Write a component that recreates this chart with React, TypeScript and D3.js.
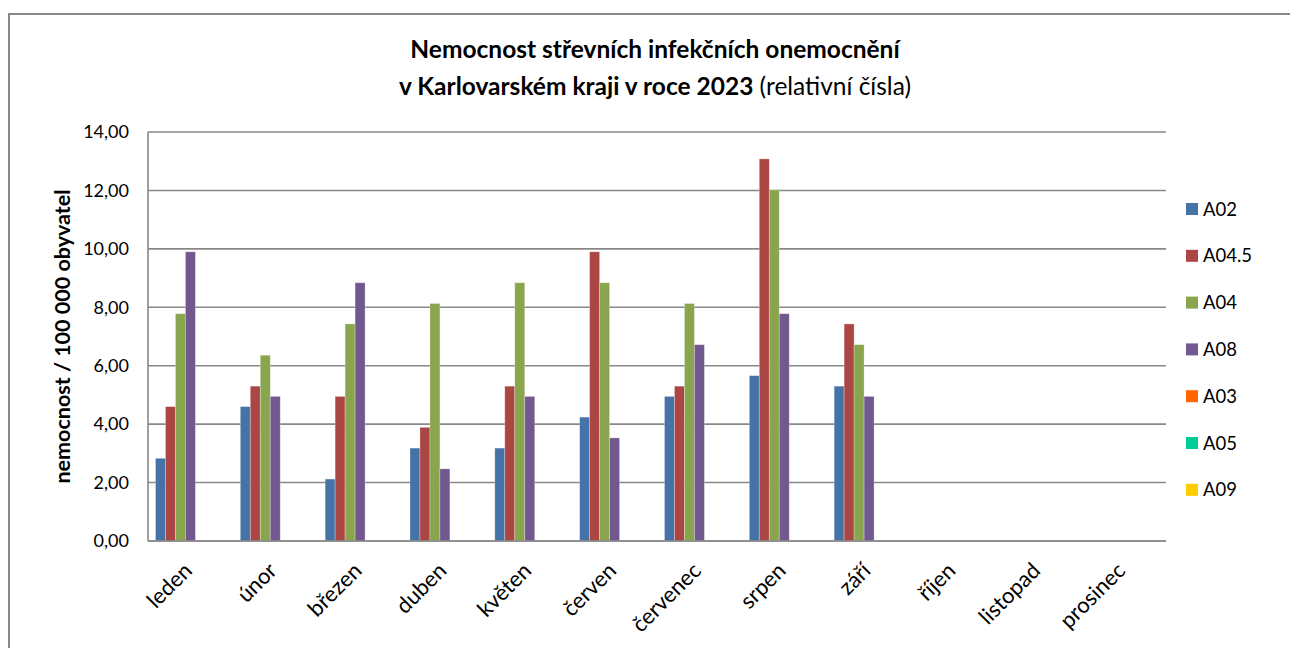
import * as d3 from "d3";
import React, { useEffect, useRef } from "react";

const months = [
  "leden", "únor", "březen", "duben", "květen", "červen",
  "červenec", "srpen", "září", "říjen", "listopad", "prosinec",
];
const seriesNames = ["A02", "A04.5", "A04", "A08", "A03", "A05", "A09"];
const seriesColors = ["#4572A7", "#AA4643", "#89A54E", "#71588F", "#FF6600", "#00CC99", "#FFCC00"];

// hodnoty po měsících (jen leden–září má data)
const a02 = [2.83, 4.60, 2.12, 3.18, 3.18, 4.24, 4.95, 5.66, 5.30];
const a045 = [4.60, 5.30, 4.95, 3.89, 5.30, 9.90, 5.30, 13.08, 7.43];
const a04 = [7.78, 6.36, 7.43, 8.13, 8.84, 8.84, 8.13, 12.02, 6.72];
const a08 = [9.90, 4.95, 8.84, 2.47, 4.95, 3.53, 6.72, 7.78, 4.95];
const a03: number[] = [];
const a05: number[] = [];
const a09: number[] = [];
const yTicks = [0, 2, 4, 6, 8, 10, 12, 14];

const FONT = "Lato, 'Open Sans', sans-serif";

export default function App() {
  const ref = useRef<SVGSVGElement>(null);

  useEffect(() => {
    const svg = d3.select(ref.current);
    svg.selectAll("*").remove();

    const left = 148, right = 1166, top = 132, bottom = 541;
    const allSeries = [a02, a045, a04, a08, a03, a05, a09];

    // rámeček grafu
    svg.append("rect")
      .attr("x", 9).attr("y", 14)
      .attr("width", 1400).attr("height", 800)
      .attr("fill", "white")
      .attr("stroke", "#888").attr("stroke-width", 2);

    // titulek
    const t = svg.append("text")
      .attr("x", 655).attr("y", 58)
      .attr("text-anchor", "middle")
      .style("font-family", FONT).style("font-size", "24.5px")
      .style("font-weight", "bold").attr("fill", "#000");
    t.text("Nemocnost střevních infekčních onemocnění");
    const t2 = svg.append("text")
      .attr("x", 655).attr("y", 95)
      .attr("text-anchor", "middle")
      .style("font-family", FONT).style("font-size", "24.5px").attr("fill", "#000");
    t2.append("tspan").style("font-weight", "bold").text("v Karlovarském kraji v roce 2023");
    t2.append("tspan").text(" (relativní čísla)");

    const x0 = d3.scaleBand().domain(months).range([left, right]).paddingInner(0).paddingOuter(0);
    // gap width 150 % => skupina 7 sloupců zabírá 7/8.5 kategorie
    const groupW = x0.bandwidth() * 7 / 8.5;
    const x1 = d3.scaleBand().domain(seriesNames).range([0, groupW]).padding(0);
    const y = d3.scaleLinear().domain([0, 14]).range([bottom, top]);

    // mřížka
    svg.append("g").selectAll("line").data(yTicks).enter().append("line")
      .attr("x1", left).attr("x2", right)
      .attr("y1", (d) => y(d)).attr("y2", (d) => y(d))
      .attr("stroke", "#888").attr("stroke-width", 1.6);

    // popisky osy y
    svg.append("g").selectAll("text").data(yTicks).enter().append("text")
      .attr("x", 129).attr("y", (d) => y(d))
      .attr("dy", "0.35em")
      .attr("text-anchor", "end")
      .style("font-family", FONT).style("font-size", "18px").attr("fill", "#000")
      .text((d) => d3.format(".2f")(d).replace(".", ","));

    // sloupce
    seriesNames.forEach((name, si) => {
      svg.append("g").selectAll("rect").data(allSeries[si]).enter().append("rect")
        .attr("x", (d, i) => x0(months[i]) + (x0.bandwidth() - groupW) / 2 + x1(name))
        .attr("y", (d) => y(d))
        .attr("width", x1.bandwidth())
        .attr("height", (d) => bottom - y(d))
        .attr("fill", seriesColors[si])
        .attr("stroke", "rgba(255,255,255,0.35)").attr("stroke-width", 0.8);
    });

    // osy
    svg.append("line").attr("x1", left).attr("x2", left).attr("y1", top).attr("y2", bottom)
      .attr("stroke", "#888").attr("stroke-width", 1.6);
    svg.append("line").attr("x1", left).attr("x2", right).attr("y1", bottom).attr("y2", bottom)
      .attr("stroke", "#888").attr("stroke-width", 1.6);

    // popisky měsíců
    svg.append("g").selectAll("text").data(months).enter().append("text")
      .attr("transform", (d) => `translate(${x0(d) + x0.bandwidth() / 2 + 3},${572}) rotate(-45)`)
      .attr("text-anchor", "end")
      .style("font-family", FONT).style("font-size", "22px").attr("fill", "#000")
      .text((d) => d);

    // název osy y
    svg.append("text")
      .attr("transform", `translate(70,${(top + bottom) / 2}) rotate(-90)`)
      .attr("text-anchor", "middle")
      .style("font-family", FONT).style("font-size", "21.5px").style("font-weight", "bold")
      .attr("fill", "#000")
      .text("nemocnost / 100 000 obyvatel");

    // legenda
    const leg = svg.append("g").selectAll("g").data(seriesNames).enter().append("g")
      .attr("transform", (d, i) => `translate(1186,${209 + i * 46.8})`);
    leg.append("rect").attr("x", 0).attr("y", -6).attr("width", 12).attr("height", 12)
      .attr("fill", (d, i) => seriesColors[i]);
    leg.append("text").attr("x", 17).attr("dy", "0.36em")
      .style("font-family", FONT).style("font-size", "18.5px").attr("fill", "#000")
      .text((d) => d);
  }, []);

  return (
    <svg
      ref={ref}
      width={1290}
      height={648}
      style={{ position: "absolute", left: 0, top: 0, background: "white" }}
    />
  );
}
